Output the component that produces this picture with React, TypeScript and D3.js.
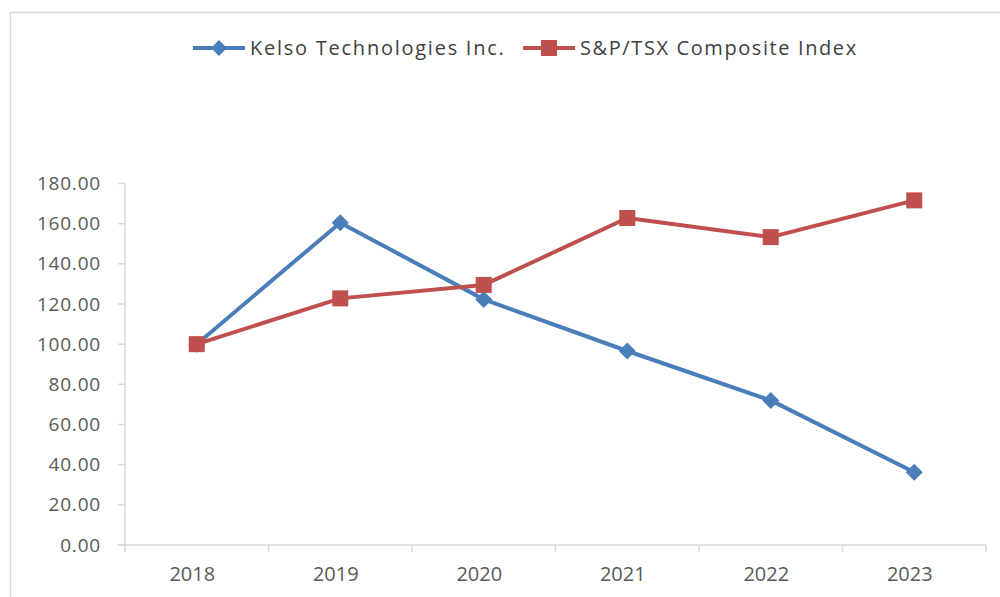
import React from "react";
import * as d3 from "d3";

const years = ["2018", "2019", "2020", "2021", "2022", "2023"];
const kelso = [100, 160.5, 122.3, 96.6, 72, 36.2];
const tsx = [100, 122.8, 129.5, 162.8, 153.3, 171.6];
const yTicks = [0, 20, 40, 60, 80, 100, 120, 140, 160, 180];
const seriesNames = ["Kelso Technologies Inc.", "S&P/TSX Composite Index"];

const W = 1000, H = 597;
const left = 125, right = 986, top = 183.5, bottom = 545;
const blue = "#4A7EBB";
const red = "#C0504D";
const font = "'Open Sans', 'Liberation Sans', sans-serif";

export default function App() {
  const x = d3.scaleBand<string>().domain(years).range([left, right]);
  const y = d3.scaleLinear().domain([0, 180]).range([bottom, top]);
  const cx = (d: string) => (x(d) as number) + x.bandwidth() / 2;
  const line = d3.line<number>().x((_, i) => cx(years[i])).y((v) => y(v));
  const boundaries = [...years.map((d) => x(d) as number), right];

  const diamond = (px: number, py: number, r: number) =>
    `M${px},${py - r}L${px + r},${py}L${px},${py + r}L${px - r},${py}Z`;

  return (
    <svg width={W} height={H} style={{ position: "absolute", left: 0, top: 0, background: "#fff" }}>
      <rect x={10.5} y={12.5} width={1000} height={600} fill="#fff" stroke="#d9d9d9" strokeWidth={1.5} />
      {/* axes */}
      <line x1={left} x2={left} y1={top} y2={bottom} stroke="#d9d9d9" strokeWidth={1.5} />
      <line x1={left - 7} x2={right} y1={bottom} y2={bottom} stroke="#d9d9d9" strokeWidth={1.5} />
      {yTicks.map((t) => (
        <g key={t}>
          <line x1={left - 7} x2={left} y1={y(t)} y2={y(t)} stroke="#d9d9d9" strokeWidth={1.5} />
          <text x={101} y={y(t)} dy="0.35em" textAnchor="end" fontFamily={font} fontSize={19} fill="#595959" letterSpacing={0.8}>
            {t.toFixed(2)}
          </text>
        </g>
      ))}
      {boundaries.map((b, i) => (
        <line key={i} x1={b} x2={b} y1={bottom} y2={bottom + 7} stroke="#d9d9d9" strokeWidth={1.5} />
      ))}
      {years.map((yr) => (
        <text key={yr} x={cx(yr) - 4.5} y={581} textAnchor="middle" fontFamily={font} fontSize={20} fill="#595959">
          {yr}
        </text>
      ))}
      {/* lines */}
      <path d={line(kelso) || ""} fill="none" stroke={blue} strokeWidth={4} strokeLinejoin="round" />
      <path d={line(tsx) || ""} fill="none" stroke={red} strokeWidth={4} strokeLinejoin="round" />
      {kelso.map((v, i) => (
        <path key={"k" + i} d={diamond(cx(years[i]), y(v), 8.5)} fill={blue} />
      ))}
      {tsx.map((v, i) => (
        <rect key={"t" + i} x={cx(years[i]) - 8} y={y(v) - 8} width={16} height={16} fill={red} />
      ))}
      {/* legend */}
      <line x1={193} x2={245} y1={48} y2={48} stroke={blue} strokeWidth={4} />
      <path d={diamond(219, 48, 8)} fill={blue} />
      <text x={250} y={48} dy="0.35em" fontFamily={font} fontSize={20} fill="#404040" letterSpacing={1.75}>
        {seriesNames[0]}
      </text>
      <line x1={523} x2={575} y1={48} y2={48} stroke={red} strokeWidth={4} />
      <rect x={541} y={40} width={16} height={16} fill={red} />
      <text x={580} y={48} dy="0.35em" fontFamily={font} fontSize={20} fill="#404040" letterSpacing={1.6}>
        {seriesNames[1]}
      </text>
    </svg>
  );
}
